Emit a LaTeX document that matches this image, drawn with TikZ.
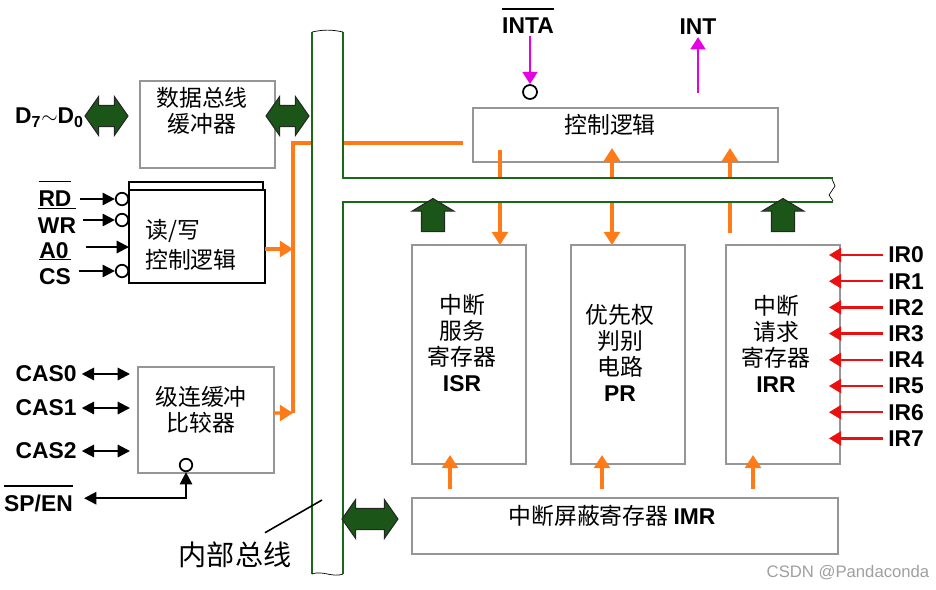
\documentclass[tikz,border=0pt]{standalone}
\usepackage{fontspec}
\setmainfont{Liberation Sans}
\newfontfamily\cjk{Noto Sans CJK SC}
\usetikzlibrary{positioning}
\usetikzlibrary{arrows.meta}
\usetikzlibrary{shapes.arrows}

\definecolor{busgreen}{RGB}{25,105,25}
\definecolor{dkgreen}{RGB}{28,85,24}
\definecolor{boxgray}{RGB}{150,150,150}
\definecolor{orng}{RGB}{255,122,25}
\definecolor{mgnta}{RGB}{230,0,230}
\definecolor{irred}{RGB}{232,16,16}

\newcommand{\ovbar}[1]{\vbox{\hrule height 0.9pt\kern4.5pt\hbox{#1}}}

\begin{document}
\begin{tikzpicture}[x=0.02cm,y=-0.02cm,>=latex,semithick,
	gbox/.style={draw=boxgray,line width=1.1pt,fill=white,inner sep=0pt,outer sep=0pt},
	kbox/.style={draw=black,line width=1.1pt,fill=white,inner sep=0pt,outer sep=0pt},
	cn/.style={font=\cjk\fontsize{13}{14.8}\selectfont,align=center,inner sep=1pt},
	lbl/.style={font=\fontsize{13}{15}\selectfont\bfseries,inner sep=1pt},
	bub/.style={circle,draw=black,line width=1pt,fill=white,inner sep=0pt,minimum size=0.25cm},
	bus/.style={draw=busgreen,line width=1.6pt},
	oline/.style={draw=orng,line width=1.9pt},
	oarrow/.style={oline,-{Triangle[length=7.5pt,width=9pt]}},
	odarrow/.style={oline,{Triangle[length=7.5pt,width=9pt]}-{Triangle[length=7.5pt,width=9pt]}},
	marrow/.style={draw=mgnta,line width=1.4pt,-{Triangle[length=7pt,width=8.5pt]}},
	rarrow/.style={draw=irred,line width=1.4pt,-{Triangle[length=7pt,width=8pt]}},
	karrow/.style={draw=black,line width=1.2pt,-{Triangle[length=7pt,width=7pt]}},
	kdarrow/.style={draw=black,line width=1.2pt,{Triangle[length=7pt,width=7pt]}-{Triangle[length=7pt,width=7pt]}},
	gdarrow/.style={double arrow,draw=black!85,fill=dkgreen,line width=0.6pt,inner sep=0.2cm,
		minimum height=0.86cm,minimum width=0.76cm,double arrow head extend=0.18cm,double arrow tip angle=110},
	guarrow/.style={single arrow,draw=black!85,fill=dkgreen,line width=0.6pt,inner sep=0.22cm,shape border rotate=90,
		minimum height=0.66cm,minimum width=0.82cm,single arrow head extend=0.19cm,single arrow tip angle=118}]
	\useasboundingbox (0,0) rectangle (936,589);

	% left side blocks
	\node [gbox,minimum width=2.7cm,minimum height=1.74cm] at (207.5,124.5) (dbuf) {};
	\node [cn] at (202,111) (dbuf_txt) {数据总线\\缓冲器};
	\node [kbox,minimum width=2.72cm,minimum height=1.86cm] at (197,236.5) (rw) {};
	\draw [line width=1.1pt] (rw.north west) -- ++(0,-8) -- ++(134,0) -- ++(0,8);
	\node [cn,align=left,anchor=west,font=\cjk\fontsize{13}{17}\selectfont] at (143,245) (rw_txt) {读/写\\控制逻辑};
	\node [gbox,minimum width=2.72cm,minimum height=2.12cm] at (206,420) (cas) {};
	\node [cn] at (201,410) (cas_txt) {级连缓冲\\比较器};

	% right side blocks
	\node [gbox,minimum width=6.1cm,minimum height=1.08cm] at (625.5,135) (ctrl) {};
	\node [cn] at (610,125) (ctrl_txt) {控制逻辑};
	\node [gbox,minimum width=2.28cm,minimum height=4.38cm] at (469,354.5) (isr) {};
	\node [gbox,minimum width=2.28cm,minimum height=4.38cm,right=0.9cm of isr] (pr) {};
	\node [gbox,minimum width=2.28cm,minimum height=4.38cm,right=0.82cm of pr] (irr) {};
	\node [gbox,minimum width=8.52cm,minimum height=1.12cm,below=0.68cm of isr.south west,anchor=north west] (imr) {};
	\node [cn] at (462,342.5) (isr_txt) {中断\\服务\\寄存器\\{\normalfont\bfseries ISR}};
	\node [cn] at (620,352.5) (pr_txt) {优先权\\判别\\电路\\{\normalfont\bfseries PR}};
	\node [cn] at (776,344) (irr_txt) {中断\\请求\\寄存器\\{\normalfont\bfseries IRR}};
	\node [cn] at (612,516) (imr_txt) {中断屏蔽寄存器 {\normalfont\bfseries IMR}};

	% orange lines (under the bus)
	\coordinate (obus_top) at (293,143);
	\coordinate (obus_bot) at (293,413);
	\draw[oline,shorten >=0.2cm] (obus_bot) -- (obus_top) -- (ctrl.west |- obus_top);
	\draw[oarrow] ([yshift=-0.25cm]rw.east) -- ++(28,0);
	\draw[oarrow] ([yshift=0.14cm]cas.east) -- (obus_bot);
	\draw[oarrow,shorten <=-0.24cm] (ctrl.south -| 500,0) -- (isr.north -| 500,0);
	\draw[odarrow,shorten >=-0.28cm] (pr.north -| 612,0) -- (ctrl.south -| 612,0);
	\draw[oarrow,shorten <=0.24cm,shorten >=-0.28cm] (irr.north -| 730,0) -- (ctrl.south -| 730,0);
	\foreach \b/\x in {isr/450,pr/602,irr/753}
		\draw[oarrow,shorten <=0.18cm,shorten >=-0.18cm] (imr.north -| \x,0) -- (\b.south -| \x,0);

	% internal bus
	\fill[white] (312,32) -- (312,574) -- (343,574) -- (343,202) -- (833,202) -- (833,178) -- (343,178) -- (343,32) -- cycle;
	\draw[bus] (312,32) -- (312,574);
	\draw[bus] (343,32) -- (343,178) -- (833,178);
	\draw[bus] (343,574) -- (343,202) -- (833,202);
	\draw[thin] (312,32) to[bend left=12] (343,32);
	\draw[thin] (312,574) .. controls (322,570) and (333,578) .. (343,574);
	\draw[thin] (832,179) -- (835,186) -- (829,195) -- (833,201);

	% green block arrows
	\node [gdarrow] at (106.5,116) (d_arr) {};
	\node [gdarrow] at (287.5,116) (dbus_arr) {};
	\node [gdarrow,minimum height=1.12cm] at (370,519) (imr_arr) {};
	\node [guarrow] at (433,218.5) (isr_arr) {};
	\node [guarrow] at (783,218.5) (irr_arr) {};

	% CPU side pins
	\node [lbl] at (49.5,118) (dpin) {D\textsubscript{7}$\sim$D\textsubscript{0}};
	\node [lbl,anchor=base] at (55,206) (rd) {\ovbar{RD}};
	\node [lbl,anchor=base] at (57,233) (wr) {\ovbar{WR}};
	\node [lbl,anchor=base] at (54,258) (a0) {A0};
	\node [lbl,anchor=base] at (55,284) (cs) {\ovbar{CS}};
	\node [bub] at (122,199) (rd_c) {};
	\node [bub] at (122,220) (wr_c) {};
	\node [bub] at (122,271) (cs_c) {};
	\draw[karrow,shorten <=0.12cm] (rd_c -| rd.east) -- (rd_c);
	\draw[karrow,shorten <=0.1cm] (wr_c -| wr.east) -- (wr_c);
	\draw[karrow,shorten <=0.3cm] (a0.east |- 0,247) -- (rw.west |- 0,247);
	\draw[karrow,shorten <=0.12cm] (cs_c -| cs.east) -- (cs_c);

	\node [lbl] at (46,374) (cas0) {CAS0};
	\node [lbl] at (46,408) (cas1) {CAS1};
	\node [lbl] at (46,451) (cas2) {CAS2};
	\foreach \c in {cas0,cas1,cas2}
		\draw[kdarrow,shorten <=0.06cm,shorten >=0.16cm] (\c.east) -- (\c.east -| cas.west);
	\node [lbl,anchor=base] at (38.5,511) (spen) {\ovbar{SP/EN}};
	\node [bub] at (186,465) (sp_c) {};
	\draw[kdarrow,shorten >=0.18cm] (sp_c) |- (spen.east);

	\node [cn,font=\cjk\fontsize{16}{18}\selectfont] at (235,555) (bus_lbl) {内部总线};
	\coordinate (bus_pt) at (322,500);
	\draw[line width=0.9pt] (bus_lbl.north) ++(30,-7) -- (bus_pt);

	% interrupt pins
	\node [lbl,anchor=base] at (528,33.5) (inta) {\ovbar{INTA}};
	\node [bub,minimum size=0.28cm] at (530,92) (inta_c) {};
	\draw[marrow] (inta_c |- inta.south) -- (inta_c);
	\node [lbl] at (698,27) (int) {INT};
	\draw[marrow,shorten <=0.3cm] (int |- ctrl.north) -- (int.south);

	\foreach \i in {0,...,7} {
		\node [lbl,anchor=west] at (886,{255+26.2*\i}) (ir\i) {IR\i};
		\draw[rarrow,shorten <=0.06cm,shorten >=-0.22cm] (ir\i.west) -- (irr.east |- ir\i.west);
	}

	\node [font=\fontsize{9.5}{11}\selectfont,text=gray!75] at (848,573) (mark) {CSDN @Pandaconda};
\end{tikzpicture}
\end{document}
